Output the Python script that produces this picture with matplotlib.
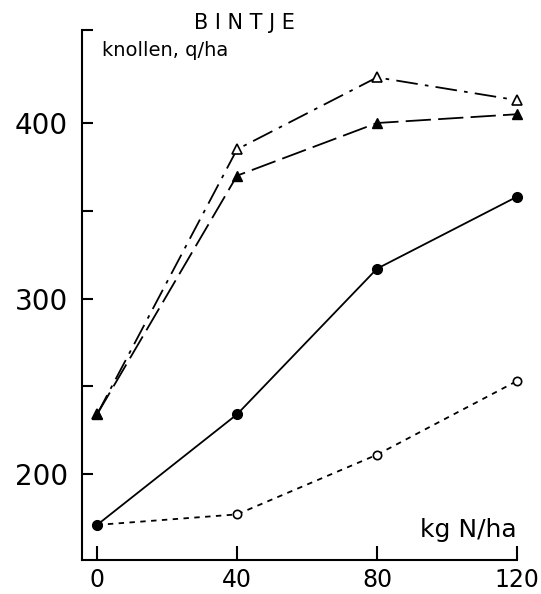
import matplotlib.pyplot as plt

# nitrogen rates and tuber yields
n_rates = [0, 40, 80, 120]
open_tri = [234, 385, 426, 413]
filled_tri = [234, 370, 400, 405]
filled_circ = [171, 234, 317, 358]
open_circ = [171, 177, 211, 253]

major_y = [200, 300, 400]
minor_y = [250, 350, 453]

plt.rcParams['font.family'] = 'DejaVu Sans'

fig = plt.figure(figsize=(5.41, 5.94), dpi=100)
ax = fig.add_axes([0.1516, 0.0572, 0.804, 0.8923])

lw = 1.3
ax.plot(n_rates, open_tri, color='black', lw=lw, linestyle=(0, (12, 4, 2, 4)),
        marker='^', markersize=7.5, markerfacecolor='white', markeredgewidth=1.2, clip_on=False)
ax.plot(n_rates, filled_tri, color='black', lw=lw, linestyle=(0, (14, 4)),
        marker='^', markersize=7.5, clip_on=False)
ax.plot(n_rates, open_circ, color='black', lw=lw, linestyle=(0, (3, 3)),
        marker='o', markersize=6, markerfacecolor='white', markeredgewidth=1.2, clip_on=False)
ax.plot(n_rates, filled_circ, color='black', lw=lw, linestyle='-',
        marker='o', markersize=7, clip_on=False)

ax.set_xlim(-4.3, 120)
ax.set_ylim(151, 453)

for side in ['top', 'right']:
    ax.spines[side].set_visible(False)
for side in ['left', 'bottom']:
    ax.spines[side].set_linewidth(1.5)

ax.set_xticks(n_rates)
ax.set_yticks(major_y)
ax.set_yticks(minor_y, minor=True)
ax.tick_params(axis='x', direction='in', length=10, width=1.5, labelsize=17, pad=6)
ax.tick_params(axis='y', which='major', direction='in', length=8, width=1.5, labelsize=20, pad=10)
ax.tick_params(axis='y', which='minor', direction='in', length=8, width=1.5)

fig.text(0.451, 0.962, 'B I N T J E', ha='center', va='center', fontsize=15)
ax.text(0.045, 0.962, 'knollen, q/ha', transform=ax.transAxes, ha='left', va='center', fontsize=14)
ax.text(120, 168, 'kg N/ha', ha='right', va='center', fontsize=18)

fig.savefig('out.png', dpi=100)
